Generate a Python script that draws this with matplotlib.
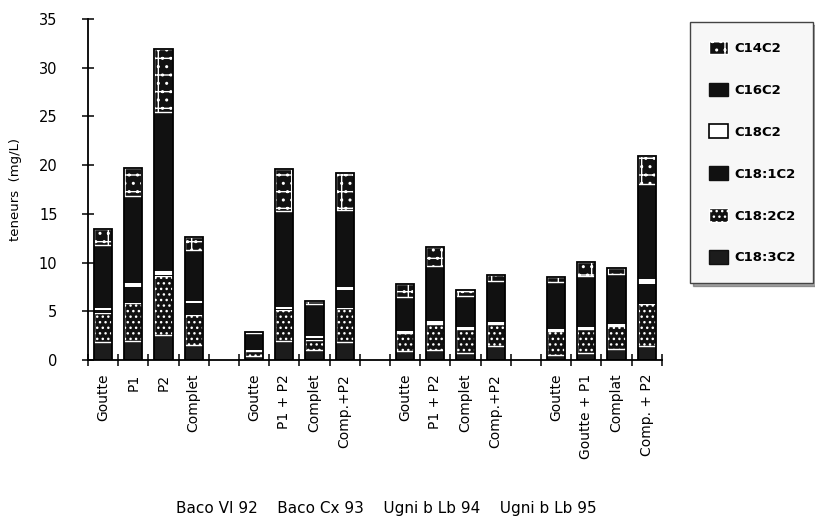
import numpy as np
import matplotlib.pyplot as plt
from matplotlib.patches import Patch

plt.rcParams.update({
    "font.family": "DejaVu Sans",
    "hatch.linewidth": 1.0,
})

# one slot per sample, empty string = spacer between wines
LABELS = ["Goutte", "P1", "P2", "Complet", "",
          "Goutte", "P1 + P2", "Complet", "Comp.+P2", "",
          "Goutte", "P1 + P2", "Complet", "Comp.+P2", "",
          "Goutte", "Goutte + P1", "Complat", "Comp. + P2"]
WINES = ["Baco VI 92", "Baco Cx 93", "Ugni b Lb 94", "Ugni b Lb 95"]

# teneurs (mg/L), stacked bottom -> top
C18_3C2 = [1.8, 1.9, 2.6, 1.5, 0, 0.4, 1.9, 1.0, 1.8, 0, 0.9, 1.0, 0.7, 1.4, 0, 0.5, 0.7, 1.1, 1.4]
C18_2C2 = [3.0, 3.9, 6.0, 3.1, 0, 0.5, 3.2, 1.0, 3.5, 0, 1.9, 2.7, 2.5, 2.3, 0, 2.5, 2.5, 2.4, 4.3]
C18_1C2 = [0.3, 1.7, 0.1, 1.2, 0, 0.0, 0.1, 0.3, 1.9, 0, 0.0, 0.0, 0.0, 0.0, 0, 0.0, 0.0, 0.0, 2.1]
C18C2 = [0.2, 0.4, 0.4, 0.3, 0, 0.1, 0.2, 0.2, 0.3, 0, 0.2, 0.3, 0.2, 0.2, 0, 0.2, 0.2, 0.2, 0.5]
C16C2 = [6.5, 8.9, 16.3, 5.2, 0, 1.8, 9.9, 3.2, 7.9, 0, 3.5, 5.6, 3.2, 4.2, 0, 4.8, 5.2, 5.1, 9.8]
C14C2 = [1.6, 2.9, 6.5, 1.3, 0, 0.1, 4.3, 0.4, 3.8, 0, 1.3, 2.0, 0.6, 0.6, 0, 0.5, 1.5, 0.6, 2.8]

INK = "#111111"
SERIES = [
    ("C18:3C2", C18_3C2, dict(facecolor="#1c1c1c", edgecolor=INK, linewidth=0)),
    ("C18:2C2", C18_2C2, dict(facecolor=INK, edgecolor="white", hatch="...", linewidth=1.0)),
    ("C18:1C2", C18_1C2, dict(facecolor=INK, edgecolor=INK, linewidth=0)),
    ("C18C2", C18C2, dict(facecolor="white", edgecolor="black", linewidth=0)),
    ("C16C2", C16C2, dict(facecolor=INK, edgecolor=INK, linewidth=0)),
    ("C14C2", C14C2, dict(facecolor=INK, edgecolor="white", hatch="+..", linewidth=1.0)),
]

fig = plt.figure(figsize=(8.15, 5.27), dpi=100)
ax = fig.add_axes([0.108, 0.317, 0.704, 0.647])

x = np.arange(len(LABELS))
used = np.array([lab != "" for lab in LABELS])
bottom = np.zeros(len(LABELS))
W = 0.6
for name, vals, style in SERIES:
    v = np.asarray(vals, float)
    ax.bar(x[used], v[used], bottom=bottom[used], width=W, **style)
    bottom += v
# black frame around each full stack
ax.bar(x[used], bottom[used], width=W, fill=False, edgecolor="black", linewidth=1.3)

ax.set_xlim(-0.5, len(LABELS) - 0.5)
ax.set_ylim(0, 35)
ax.set_yticks(np.arange(0, 36, 5))
ax.tick_params(axis="y", direction="inout", length=8, width=1.1, pad=18, labelsize=10.5)

ax.set_xticks(np.arange(len(LABELS) + 1) - 0.5)
ax.set_xticklabels([])
ax.set_xticks(x[used], minor=True)
ax.set_xticklabels([l for l in LABELS if l], minor=True, rotation=90, fontsize=10)
ax.tick_params(axis="x", which="major", direction="inout", length=9, width=1.1)
ax.tick_params(axis="x", which="minor", length=0, pad=10)

for s in ("top", "right"):
    ax.spines[s].set_visible(False)
for s in ("left", "bottom"):
    ax.spines[s].set_linewidth(1.3)

ax.set_ylabel("teneurs  (mg/L)", fontsize=9.5)
ax.yaxis.set_label_coords(-0.115, 0.5)
ax.set_xlabel("    ".join(WINES), fontsize=11)
ax.xaxis.set_label_coords(0.52, -0.415)

handles = []
for name, _, style in SERIES[::-1]:
    if name == "C18C2":
        h = Patch(facecolor="white", edgecolor="black", linewidth=1.2, label=name)
    elif "hatch" in style:
        h = Patch(facecolor=INK, edgecolor="white", hatch=style["hatch"], linewidth=1.0, label=name)
    else:
        h = Patch(facecolor=style["facecolor"], edgecolor=INK, linewidth=1.0, label=name)
    handles.append(h)
leg = ax.legend(handles=handles, loc="upper left",
                bbox_to_anchor=(0.847, 0.453, 0.151, 0.505), bbox_transform=fig.transFigure,
                mode="expand", borderaxespad=0, borderpad=1.4, labelspacing=2.1,
                handlelength=1.45, handleheight=1.2, handletextpad=0.5,
                fancybox=False, shadow=True, prop={"size": 9.5, "weight": "bold"})
leg.get_frame().set_edgecolor("#444444")
leg.get_frame().set_facecolor("#f7f7f7")
leg.get_frame().set_linewidth(1.0)

fig.savefig("out.png", dpi=100)
